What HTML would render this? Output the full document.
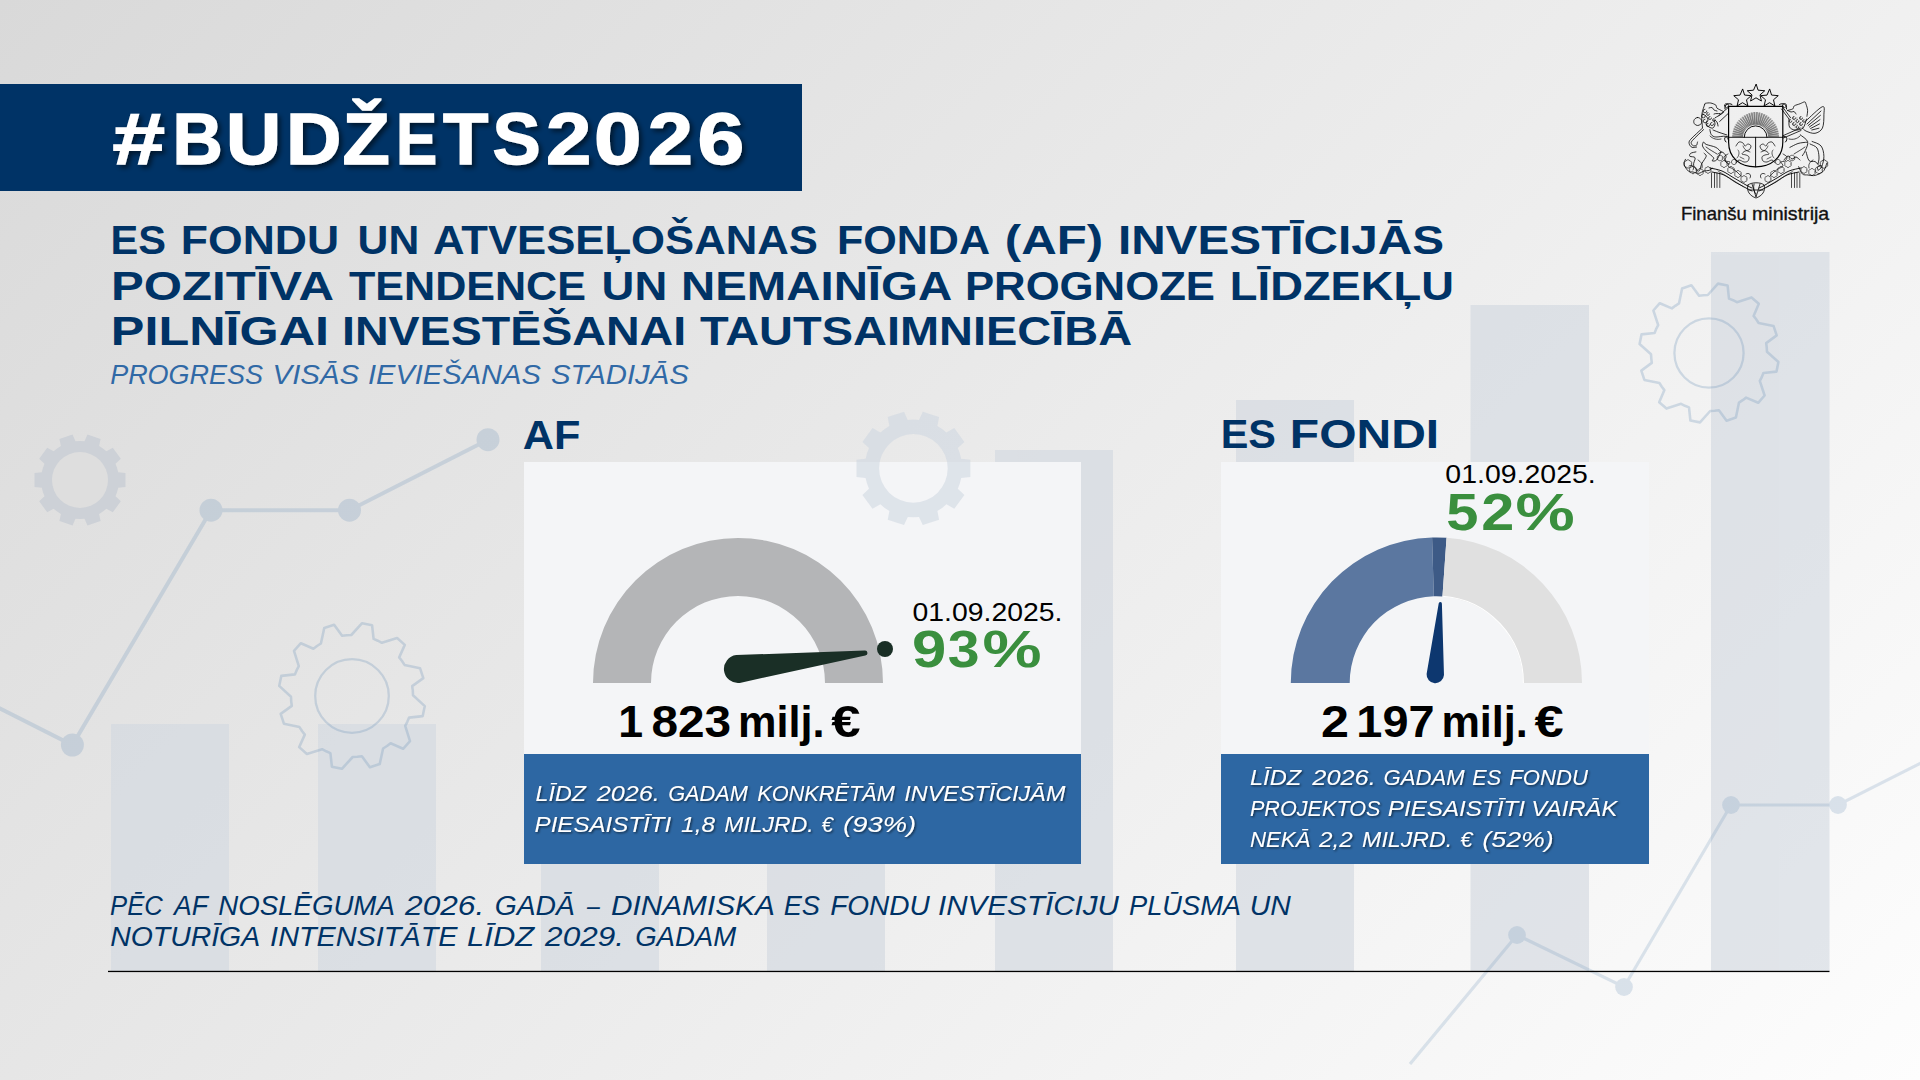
<!DOCTYPE html>
<html><head><meta charset="utf-8">
<style>
html,body{margin:0;padding:0;}
body{width:1920px;height:1080px;overflow:hidden;position:relative;
background:linear-gradient(135deg,#d9d9d9 0%,#fdfdfd 100%);
font-family:"Liberation Sans",sans-serif;}
svg{position:absolute;left:0;top:0;}
.b{font-family:"Liberation Sans",sans-serif;font-weight:bold;}
.r{font-family:"Liberation Sans",sans-serif;font-weight:normal;}
.i{font-family:"Liberation Sans",sans-serif;font-style:italic;}
</style></head>
<body>
<svg width="1920" height="1080" viewBox="0 0 1920 1080">
<defs>
<filter id="sh1" x="-10%" y="-30%" width="120%" height="160%"><feDropShadow dx="3" dy="3" stdDeviation="2.5" flood-color="#000" flood-opacity="0.55"/></filter>
<filter id="sh2" x="-10%" y="-30%" width="120%" height="160%"><feDropShadow dx="1.2" dy="1.2" stdDeviation="0.8" flood-color="#000" flood-opacity="0.6"/></filter>
</defs>
<!-- background decor -->
<g fill="rgb(210,216,224)" opacity="0.62"><rect x="111" y="724" width="118" height="247"/><rect x="318" y="724" width="118" height="247"/><rect x="541" y="700" width="118" height="271"/><rect x="767" y="700" width="118" height="271"/><rect x="995" y="450" width="118" height="521"/><rect x="1236" y="400" width="118" height="571"/><rect x="1470.5" y="305" width="118.5" height="666"/><rect x="1711" y="252" width="118.5" height="719"/></g>
<path d="M117.1,492.1 L118.2,487.7 L125.5,486.9 L125.5,473.1 L118.2,472.3 L117.1,467.9 L115.5,463.8 L120.8,458.8 L112.8,447.7 L106.4,451.3 L102.9,448.4 L99.1,446.0 L100.6,438.9 L87.5,434.6 L84.5,441.3 L80.0,441.0 L75.5,441.3 L72.5,434.6 L59.4,438.9 L60.9,446.0 L57.1,448.4 L53.6,451.3 L47.2,447.7 L39.2,458.8 L44.5,463.8 L42.9,467.9 L41.8,472.3 L34.5,473.1 L34.5,486.9 L41.8,487.7 L42.9,492.1 L44.5,496.2 L39.2,501.2 L47.2,512.3 L53.6,508.7 L57.1,511.6 L60.9,514.0 L59.4,521.1 L72.5,525.4 L75.5,518.7 L80.0,519.0 L84.5,518.7 L87.5,525.4 L100.6,521.1 L99.1,514.0 L102.9,511.6 L106.4,508.7 L112.8,512.3 L120.8,501.2 L115.5,496.2 Z" fill="#cdd1d7"/><circle cx="80" cy="480" r="28" fill="#dedede"/>
<g opacity="0.26"><polyline points="-5,706 72.4,745 211,510.2 349.5,510.2 488,439.7" fill="none" stroke="rgb(119,154,189)" stroke-width="4"/><circle cx="72.4" cy="745" r="11.5" fill="rgb(119,154,189)"/><circle cx="211" cy="510.2" r="11.5" fill="rgb(119,154,189)"/><circle cx="349.5" cy="510.2" r="11.5" fill="rgb(119,154,189)"/><circle cx="488" cy="439.7" r="11.5" fill="rgb(119,154,189)"/></g>
<g fill="none" stroke="rgb(119,154,189)" opacity="0.3" stroke-linejoin="round">
<path d="M377.8,640.7 L373.6,638.9 L372.1,625.3 L362.1,623.2 L351.3,635.0 L346.7,635.2 L342.1,635.8 L334.1,624.7 L324.3,627.9 L320.9,643.5 L317.0,646.0 L313.4,648.8 L300.9,643.2 L294.0,650.9 L298.8,666.1 L296.7,670.2 L294.9,674.4 L281.3,675.9 L279.2,685.9 L291.0,696.7 L291.2,701.3 L291.8,705.9 L280.7,713.9 L283.9,723.7 L299.5,727.1 L302.0,731.0 L304.8,734.6 L299.2,747.1 L306.9,754.0 L322.1,749.2 L326.2,751.3 L330.4,753.1 L331.9,766.7 L341.9,768.8 L352.7,757.0 L357.3,756.8 L361.9,756.2 L369.9,767.3 L379.7,764.1 L383.1,748.5 L387.0,746.0 L390.6,743.2 L403.1,748.8 L410.0,741.1 L405.2,725.9 L407.3,721.8 L409.1,717.6 L422.7,716.1 L424.8,706.1 L413.0,695.3 L412.8,690.7 L412.2,686.1 L423.3,678.1 L420.1,668.3 L404.5,664.9 L402.0,661.0 L399.2,657.4 L404.8,644.9 L397.1,638.0 L381.9,642.8 Z" stroke-width="2.6"/><circle cx="352" cy="696" r="36.8" stroke-width="2.3"/>
<path d="M1733.1,300.2 L1729.0,298.6 L1727.6,285.5 L1718.0,283.6 L1707.8,295.0 L1703.4,295.3 L1699.1,295.8 L1691.4,285.3 L1682.1,288.4 L1679.0,303.4 L1675.3,305.8 L1671.9,308.4 L1659.8,303.2 L1653.4,310.5 L1658.2,325.1 L1656.2,328.9 L1654.6,333.0 L1641.5,334.4 L1639.6,344.0 L1651.0,354.2 L1651.3,358.6 L1651.8,362.9 L1641.3,370.6 L1644.4,379.9 L1659.4,383.0 L1661.8,386.7 L1664.4,390.1 L1659.2,402.2 L1666.5,408.6 L1681.1,403.8 L1684.9,405.8 L1689.0,407.4 L1690.4,420.5 L1700.0,422.4 L1710.2,411.0 L1714.6,410.7 L1718.9,410.2 L1726.6,420.7 L1735.9,417.6 L1739.0,402.6 L1742.7,400.2 L1746.1,397.6 L1758.2,402.8 L1764.6,395.5 L1759.8,380.9 L1761.8,377.1 L1763.4,373.0 L1776.5,371.6 L1778.4,362.0 L1767.0,351.8 L1766.7,347.4 L1766.2,343.1 L1776.7,335.4 L1773.6,326.1 L1758.6,323.0 L1756.2,319.3 L1753.6,315.9 L1758.8,303.8 L1751.5,297.4 L1736.9,302.2 Z" stroke-width="2.6"/><circle cx="1709" cy="353" r="34.6" stroke-width="2.3"/>
</g>
<g opacity="0.24"><polyline points="1410,1064 1517,935 1624,987 1731,805 1838,805 1925,761" fill="none" stroke="rgb(119,154,189)" stroke-width="3.2"/><circle cx="1517" cy="935" r="8.9" fill="rgb(119,154,189)"/><circle cx="1624" cy="987" r="8.9" fill="rgb(119,154,189)"/><circle cx="1731" cy="805" r="8.9" fill="rgb(119,154,189)"/><circle cx="1838" cy="805" r="8.9" fill="rgb(119,154,189)"/></g>

<!-- banner -->
<rect x="0" y="84" width="802" height="107" fill="#003366"/>
<g class="b" font-size="72.1" fill="#ffffff" stroke="#ffffff" stroke-width="1.4" filter="url(#sh1)"><g transform="translate(0,163.7)"><text x="112.49" textLength="52.39" lengthAdjust="spacingAndGlyphs">#</text><text x="172.55" textLength="50.23" lengthAdjust="spacingAndGlyphs">B</text><text x="226.1" textLength="55.13" lengthAdjust="spacingAndGlyphs">U</text><text x="285.9" textLength="55.39" lengthAdjust="spacingAndGlyphs">D</text><text x="342.59" textLength="47.31" lengthAdjust="spacingAndGlyphs">Ž</text><text x="396.04" textLength="41.16" lengthAdjust="spacingAndGlyphs">E</text><text x="442.95" textLength="45.34" lengthAdjust="spacingAndGlyphs">T</text><text x="492.55" textLength="48.13" lengthAdjust="spacingAndGlyphs">S</text><text x="545.95" textLength="45.36" lengthAdjust="spacingAndGlyphs">2</text><text x="593.94" textLength="47.5" lengthAdjust="spacingAndGlyphs">0</text><text x="647.83" textLength="45.15" lengthAdjust="spacingAndGlyphs">2</text><text x="697.55" textLength="46.74" lengthAdjust="spacingAndGlyphs">6</text></g></g>

<!-- headings -->
<g class="b" font-size="41.42" fill="#003366"><g transform="translate(0,254)"><text x="110.59" textLength="55.51" lengthAdjust="spacingAndGlyphs">ES</text><text x="180.85" textLength="158.29" lengthAdjust="spacingAndGlyphs">FONDU</text><text x="357.62" textLength="61.69" lengthAdjust="spacingAndGlyphs">UN</text><text x="432.98" textLength="385.0" lengthAdjust="spacingAndGlyphs">ATVESEĻOŠANAS</text><text x="836.94" textLength="153.09" lengthAdjust="spacingAndGlyphs">FONDA</text><text x="1004.85" textLength="98.3" lengthAdjust="spacingAndGlyphs">(AF)</text><text x="1117.9" textLength="326.26" lengthAdjust="spacingAndGlyphs">INVESTĪCIJĀS</text></g></g>
<g class="b" font-size="41.42" fill="#003366"><g transform="translate(0,300)"><text x="110.93" textLength="223.1" lengthAdjust="spacingAndGlyphs">POZITĪVA</text><text x="348.99" textLength="237.0" lengthAdjust="spacingAndGlyphs">TENDENCE</text><text x="601.64" textLength="65.63" lengthAdjust="spacingAndGlyphs">UN</text><text x="680.96" textLength="271.15" lengthAdjust="spacingAndGlyphs">NEMAINĪGA</text><text x="964.93" textLength="250.09" lengthAdjust="spacingAndGlyphs">PROGNOZE</text><text x="1229.89" textLength="224.19" lengthAdjust="spacingAndGlyphs">LĪDZEKĻU</text></g></g>
<g class="b" font-size="41.42" fill="#003366"><g transform="translate(0,345)"><text x="110.89" textLength="218.22" lengthAdjust="spacingAndGlyphs">PILNĪGAI</text><text x="341.97" textLength="344.15" lengthAdjust="spacingAndGlyphs">INVESTĒŠANAI</text><text x="700.0" textLength="432.06" lengthAdjust="spacingAndGlyphs">TAUTSAIMNIECĪBĀ</text></g></g>
<g class="i" font-size="27.62" fill="#3069a6"><g transform="translate(0,383.75)"><text x="110.15" textLength="152.85" lengthAdjust="spacingAndGlyphs">PROGRESS</text><text x="272.62" textLength="86.58" lengthAdjust="spacingAndGlyphs">VISĀS</text><text x="367.95" textLength="172.85" lengthAdjust="spacingAndGlyphs">IEVIEŠANAS</text><text x="550.95" textLength="137.84" lengthAdjust="spacingAndGlyphs">STADIJĀS</text></g></g>
<g class="b" font-size="40.84" fill="#003366"><g transform="translate(0,448.75)"><text x="522.83" textLength="57.63" lengthAdjust="spacingAndGlyphs">AF</text></g></g>
<g class="b" font-size="40.7" fill="#003366"><g transform="translate(0,448)"><text x="1220.72" textLength="55.26" lengthAdjust="spacingAndGlyphs">ES</text><text x="1289.83" textLength="149.37" lengthAdjust="spacingAndGlyphs">FONDI</text></g></g>

<!-- AF card -->
<rect x="524" y="462" width="557" height="292" fill="#f4f5f7"/>
<rect x="524" y="754" width="557" height="110" fill="#2d67a3"/>
<path d="M959.8,483.5 L961.2,478.0 L970.3,477.0 L970.3,459.8 L961.2,458.8 L959.8,453.3 L957.8,448.1 L964.4,441.9 L954.3,428.0 L946.4,432.5 L942.1,428.9 L937.4,425.9 L939.1,417.0 L922.8,411.7 L919.0,419.9 L913.4,419.6 L907.8,419.9 L904.0,411.7 L887.7,417.0 L889.4,425.9 L884.7,428.9 L880.4,432.5 L872.5,428.0 L862.4,441.9 L869.0,448.1 L867.0,453.3 L865.6,458.8 L856.5,459.8 L856.5,477.0 L865.6,478.0 L867.0,483.5 L869.0,488.7 L862.4,494.9 L872.5,508.8 L880.4,504.3 L884.7,507.9 L889.4,510.9 L887.7,519.8 L904.0,525.1 L907.8,516.9 L913.4,517.2 L919.0,516.9 L922.8,525.1 L939.1,519.8 L937.4,510.9 L942.1,507.9 L946.4,504.3 L954.3,508.8 L964.4,494.9 L957.8,488.7 Z M947.7,468.4 A34.3,34.3 0 1 0 879.1,468.4 A34.3,34.3 0 1 0 947.7,468.4 Z" fill="#ccd5e0" opacity="0.55" fill-rule="evenodd"/>
<path d="M593.00,683.00 A145,145 0 0 1 883.00,683.00 L825.00,683.00 A87,87 0 0 0 651.00,683.00 Z" fill="#b4b5b7"/>
<path d="M739.75,682.89 L865.31,655.48 A2.5,2.5 0 0 0 864.69,650.52 L736.25,655.11 A14,14 0 1 0 739.75,682.89 Z" fill="#1a2f26"/>
<circle cx="885" cy="649" r="8" fill="#1a2f26"/>
<g class="r" font-size="25.5" fill="#000"><g transform="translate(0,620.9)"><text x="912.53" textLength="149.89" lengthAdjust="spacingAndGlyphs">01.09.2025.</text></g></g>
<g class="b" font-size="52.01" fill="#3a8f3e"><g transform="translate(0,667.3)"><text x="911.98" textLength="34.29" lengthAdjust="spacingAndGlyphs">9</text><text x="947.88" textLength="31.79" lengthAdjust="spacingAndGlyphs">3</text><text x="982.54" textLength="59.08" lengthAdjust="spacingAndGlyphs">%</text></g></g>
<g class="b" font-size="43.7" fill="#000"><g transform="translate(0,737)"><text x="618.34" textLength="24.87" lengthAdjust="spacingAndGlyphs">1</text><text x="651.44" textLength="79.74" lengthAdjust="spacingAndGlyphs">823</text><text x="737.95" textLength="86.51" lengthAdjust="spacingAndGlyphs">milj.</text><text x="831.38" textLength="29.37" lengthAdjust="spacingAndGlyphs">€</text></g></g>
<g class="i" font-size="22.53" fill="#fff" filter="url(#sh2)"><g transform="translate(0,801.2)"><text x="535.57" textLength="50.39" lengthAdjust="spacingAndGlyphs">LĪDZ</text><text x="596.73" textLength="63.13" lengthAdjust="spacingAndGlyphs">2026.</text><text x="668.14" textLength="79.84" lengthAdjust="spacingAndGlyphs">GADAM</text><text x="757.17" textLength="137.81" lengthAdjust="spacingAndGlyphs">KONKRĒTĀM</text><text x="904.37" textLength="160.99" lengthAdjust="spacingAndGlyphs">INVESTĪCIJĀM</text></g></g>
<g class="i" font-size="22.53" fill="#fff" filter="url(#sh2)"><g transform="translate(0,831.8)"><text x="534.56" textLength="136.67" lengthAdjust="spacingAndGlyphs">PIESAISTĪTI</text><text x="681.12" textLength="33.9" lengthAdjust="spacingAndGlyphs">1,8</text><text x="724.37" textLength="89.23" lengthAdjust="spacingAndGlyphs">MILJRD.</text><text x="821.51" textLength="11.56" lengthAdjust="spacingAndGlyphs">€</text><text x="843.08" textLength="73.02" lengthAdjust="spacingAndGlyphs">(93%)</text></g></g>

<!-- ES card -->
<rect x="1221" y="462" width="428" height="292" fill="#f4f5f7"/>
<rect x="1221" y="754" width="428" height="110" fill="#2d67a3"/>
<path d="M1290.80,683.00 A145.6,145.6 0 0 1 1432.08,537.46 L1433.83,596.34 A86.7,86.7 0 0 0 1349.70,683.00 Z" fill="#5b77a0"/>
<path d="M1432.08,537.46 A145.6,145.6 0 0 1 1446.56,537.75 L1442.45,596.51 A86.7,86.7 0 0 0 1433.83,596.34 Z" fill="#3d5a86"/>
<path d="M1446.56,537.75 A145.6,145.6 0 0 1 1582.00,683.00 L1523.10,683.00 A86.7,86.7 0 0 0 1442.45,596.51 Z" fill="#e0e0e0"/>
<path d="M1523.4,683 A87,87 0 0 0 1442.5,596.2" fill="none" stroke="#ffffff" stroke-width="1.1"/>
<path d="M1443.98,675.11 L1441.90,603.81 A1.6,1.6 0 0 0 1438.70,603.59 L1426.62,673.89 A8.7,8.7 0 1 0 1443.98,675.11 Z" fill="#0d376f"/>
<g class="r" font-size="25.79" fill="#000"><g transform="translate(0,482.8)"><text x="1445.38" textLength="150.36" lengthAdjust="spacingAndGlyphs">01.09.2025.</text></g></g>
<g class="b" font-size="51.29" fill="#3a8f3e"><g transform="translate(0,530)"><text x="1446.33" textLength="32.19" lengthAdjust="spacingAndGlyphs">5</text><text x="1481.3" textLength="33.08" lengthAdjust="spacingAndGlyphs">2</text><text x="1515.45" textLength="59.18" lengthAdjust="spacingAndGlyphs">%</text></g></g>
<g class="b" font-size="43.7" fill="#000"><g transform="translate(0,737)"><text x="1320.99" textLength="27.99" lengthAdjust="spacingAndGlyphs">2</text><text x="1356.35" textLength="78.27" lengthAdjust="spacingAndGlyphs">197</text><text x="1441.38" textLength="86.44" lengthAdjust="spacingAndGlyphs">milj.</text><text x="1534.62" textLength="29.17" lengthAdjust="spacingAndGlyphs">€</text></g></g>
<g class="i" font-size="22.53" fill="#fff" filter="url(#sh2)"><g transform="translate(0,784.8)"><text x="1249.95" textLength="51.24" lengthAdjust="spacingAndGlyphs">LĪDZ</text><text x="1312.33" textLength="63.45" lengthAdjust="spacingAndGlyphs">2026.</text><text x="1383.55" textLength="81.06" lengthAdjust="spacingAndGlyphs">GADAM</text><text x="1472.32" textLength="28.84" lengthAdjust="spacingAndGlyphs">ES</text><text x="1509.34" textLength="78.53" lengthAdjust="spacingAndGlyphs">FONDU</text></g></g>
<g class="i" font-size="22.53" fill="#fff" filter="url(#sh2)"><g transform="translate(0,816)"><text x="1249.98" textLength="130.42" lengthAdjust="spacingAndGlyphs">PROJEKTOS</text><text x="1387.8" textLength="137.22" lengthAdjust="spacingAndGlyphs">PIESAISTĪTI</text><text x="1531.28" textLength="86.09" lengthAdjust="spacingAndGlyphs">VAIRĀK</text></g></g>
<g class="i" font-size="22.53" fill="#fff" filter="url(#sh2)"><g transform="translate(0,847.4)"><text x="1249.91" textLength="60.72" lengthAdjust="spacingAndGlyphs">NEKĀ</text><text x="1319.14" textLength="33.71" lengthAdjust="spacingAndGlyphs">2,2</text><text x="1362.13" textLength="89.99" lengthAdjust="spacingAndGlyphs">MILJRD.</text><text x="1460.25" textLength="12.29" lengthAdjust="spacingAndGlyphs">€</text><text x="1482.36" textLength="71.36" lengthAdjust="spacingAndGlyphs">(52%)</text></g></g>

<!-- bottom -->
<g class="i" font-size="27.62" fill="#003366"><g transform="translate(0,914.7)"><text x="110.12" textLength="52.75" lengthAdjust="spacingAndGlyphs">PĒC</text><text x="174.12" textLength="33.89" lengthAdjust="spacingAndGlyphs">AF</text><text x="218.19" textLength="176.65" lengthAdjust="spacingAndGlyphs">NOSLĒGUMA</text><text x="405.13" textLength="79.12" lengthAdjust="spacingAndGlyphs">2026.</text><text x="494.72" textLength="80.13" lengthAdjust="spacingAndGlyphs">GADĀ</text><text x="587.0" textLength="12.85" lengthAdjust="spacingAndGlyphs">–</text><text x="610.94" textLength="163.91" lengthAdjust="spacingAndGlyphs">DINAMISKA</text><text x="783.67" textLength="36.33" lengthAdjust="spacingAndGlyphs">ES</text><text x="830.17" textLength="99.66" lengthAdjust="spacingAndGlyphs">FONDU</text><text x="938.01" textLength="181.02" lengthAdjust="spacingAndGlyphs">INVESTĪCIJU</text><text x="1128.98" textLength="112.05" lengthAdjust="spacingAndGlyphs">PLŪSMA</text><text x="1249.78" textLength="41.05" lengthAdjust="spacingAndGlyphs">UN</text></g></g>
<g class="i" font-size="27.62" fill="#003366"><g transform="translate(0,945.9)"><text x="110.15" textLength="150.04" lengthAdjust="spacingAndGlyphs">NOTURĪGA</text><text x="270.13" textLength="187.34" lengthAdjust="spacingAndGlyphs">INTENSITĀTE</text><text x="467.11" textLength="67.02" lengthAdjust="spacingAndGlyphs">LĪDZ</text><text x="545.12" textLength="78.85" lengthAdjust="spacingAndGlyphs">2029.</text><text x="635.15" textLength="101.04" lengthAdjust="spacingAndGlyphs">GADAM</text></g></g>
<rect x="108" y="970.8" width="1721.5" height="1.3" fill="#000"/>

<!-- logo -->
<g transform="translate(1684,84)" fill="none" stroke="#000" stroke-width="0.95" stroke-linejoin="round" stroke-linecap="round"><polygon points="58.50,5.30 56.03,11.10 49.75,11.66 54.51,15.80 53.09,21.94 58.50,18.70 63.91,21.94 62.49,15.80 67.25,11.66 60.97,11.10"/><polygon points="72.00,0.40 69.53,6.20 63.25,6.76 68.01,10.90 66.59,17.04 72.00,13.80 77.41,17.04 75.99,10.90 80.75,6.76 74.47,6.20"/><polygon points="85.50,5.30 83.03,11.10 76.75,11.66 81.51,15.80 80.09,21.94 85.50,18.70 90.91,21.94 89.49,15.80 94.25,11.66 87.97,11.10"/><path d="M44.6,22.3 L98.8,22.3 L98.8,58 C98.8,74 87,82.8 71.6,82.8 C56,82.8 44.6,74 44.6,58 Z" stroke-width="1.2"/><path d="M44.6,53.3 L98.8,53.3 M71.6,53.3 L71.6,82.8" stroke-width="0.9"/><path d="M41,25 C40,20 45,18.5 48,20.5 M102.5,25 C103.5,20 98.5,18.5 95.5,20.5 M42,58 C39,55 41,51 44.6,53 M101.5,58 C104.5,55 102.5,51 98.8,53"/><path d="M60.2,53.3 A11.4,11.4 0 0 1 83,53.3"/><path d="M84.59,52.91 L94.59,52.62 M84.58,52.62 L94.57,52.10 M84.56,52.33 L94.54,51.58 M84.48,51.56 L94.42,50.22 M84.44,51.27 L94.34,49.70 M84.39,50.98 L94.25,49.18 M84.23,50.22 L94.01,47.84 M84.16,49.94 L93.88,47.33 M84.08,49.65 L93.74,46.83 M83.84,48.92 L93.38,45.50 M83.74,48.64 L93.20,45.01 M83.63,48.37 L93.00,44.52 M83.31,47.66 L92.52,43.23 M83.18,47.40 L92.29,42.76 M83.05,47.14 L92.04,42.29 M82.66,46.47 L91.44,41.04 M82.50,46.22 L91.16,40.60 M82.34,45.97 L90.87,40.16 M81.89,45.35 L90.15,38.96 M81.70,45.12 L89.82,38.55 M81.51,44.89 L89.48,38.14 M81.00,44.32 L88.65,37.00 M80.79,44.11 L88.28,36.62 M80.58,43.90 L87.90,36.25 M80.01,43.39 L86.96,35.19 M79.78,43.20 L86.54,34.85 M79.55,43.01 L86.12,34.52 M78.93,42.56 L85.07,33.55 M78.68,42.40 L84.62,33.25 M78.43,42.24 L84.16,32.96 M77.76,41.85 L83.02,32.09 M77.50,41.72 L82.54,31.83 M77.24,41.59 L82.05,31.59 M76.53,41.27 L80.81,30.83 M76.26,41.16 L80.30,30.63 M75.98,41.06 L79.79,30.44 M75.25,40.82 L78.47,29.80 M74.96,40.74 L77.94,29.65 M74.68,40.67 L77.40,29.51 M73.92,40.51 L76.01,29.01 M73.63,40.46 L75.46,28.92 M73.34,40.42 L74.91,28.84 M72.57,40.34 L73.47,28.47 M72.28,40.32 L72.90,28.44 M71.99,40.31 L72.34,28.42 M71.21,40.31 L70.86,28.42 M70.92,40.32 L70.30,28.44 M70.63,40.34 L69.73,28.47 M69.86,40.42 L68.29,28.84 M69.57,40.46 L67.74,28.92 M69.28,40.51 L67.19,29.01 M68.52,40.67 L65.80,29.51 M68.24,40.74 L65.26,29.65 M67.95,40.82 L64.73,29.80 M67.22,41.06 L63.41,30.44 M66.94,41.16 L62.90,30.63 M66.67,41.27 L62.39,30.83 M65.96,41.59 L61.15,31.59 M65.70,41.72 L60.66,31.83 M65.44,41.85 L60.18,32.09 M64.77,42.24 L59.04,32.96 M64.52,42.40 L58.58,33.25 M64.27,42.56 L58.13,33.55 M63.65,43.01 L57.08,34.52 M63.42,43.20 L56.66,34.85 M63.19,43.39 L56.24,35.19 M62.62,43.90 L55.30,36.25 M62.41,44.11 L54.92,36.62 M62.20,44.32 L54.55,37.00 M61.69,44.89 L53.72,38.14 M61.50,45.12 L53.38,38.55 M61.31,45.35 L53.05,38.96 M60.86,45.97 L52.33,40.16 M60.70,46.22 L52.04,40.60 M60.54,46.47 L51.76,41.04 M60.15,47.14 L51.16,42.29 M60.02,47.40 L50.91,42.76 M59.89,47.66 L50.68,43.23 M59.57,48.37 L50.20,44.52 M59.46,48.64 L50.00,45.01 M59.36,48.92 L49.82,45.50 M59.12,49.65 L49.46,46.83 M59.04,49.94 L49.32,47.33 M58.97,50.22 L49.19,47.84 M58.81,50.98 L48.95,49.18 M58.76,51.27 L48.86,49.70 M58.72,51.56 L48.78,50.22 M58.64,52.33 L48.66,51.58 M58.62,52.62 L48.63,52.10 M58.61,52.91 L48.61,52.62" stroke-width="0.45" stroke="#444"/><path d="M52.0,62.0 C52.5,61.3 53.8,58.5 55.0,58.0 C56.2,57.5 58.0,58.3 59.0,59.0 C60.0,59.7 60.2,61.8 61.0,62.0 C61.8,62.2 63.0,60.0 64.0,60.0 C65.0,60.0 66.8,61.0 67.0,62.0 C67.2,63.0 66.0,65.2 65.0,66.0 C64.0,66.8 62.2,66.3 61.0,67.0 C59.8,67.7 57.8,69.3 58.0,70.0 C58.2,70.7 60.8,70.5 62.0,71.0 C63.2,71.5 64.7,72.0 65.0,73.0 C65.3,74.0 64.8,76.2 64.0,77.0 C63.2,77.8 61.5,78.2 60.0,78.0 C58.5,77.8 56.3,75.8 55.0,76.0 C53.7,76.2 52.5,78.5 52.0,79.0" stroke-width="0.7"/><path d="M54,66 C56,68 55,72 53,74 M59,62 C60,65 62,67 66,68 M56,73 L60,75" stroke-width="0.6"/><path d="M91.0,62.0 C90.5,61.3 89.2,58.5 88.0,58.0 C86.8,57.5 85.0,58.3 84.0,59.0 C83.0,59.7 82.8,61.8 82.0,62.0 C81.2,62.2 80.0,60.0 79.0,60.0 C78.0,60.0 76.2,61.0 76.0,62.0 C75.8,63.0 77.0,65.2 78.0,66.0 C79.0,66.8 80.8,66.3 82.0,67.0 C83.2,67.7 85.2,69.3 85.0,70.0 C84.8,70.7 82.2,70.5 81.0,71.0 C79.8,71.5 78.3,72.0 78.0,73.0 C77.7,74.0 78.2,76.2 79.0,77.0 C79.8,77.8 81.5,78.2 83.0,78.0 C84.5,77.8 86.7,75.8 88.0,76.0 C89.3,76.2 90.5,78.5 91.0,79.0" stroke-width="0.7"/><path d="M89,66 C87,68 88,72 90,74 M84,62 C83,65 81,67 77,68 M87,73 L83,75" stroke-width="0.6"/><path d="M20.7,20.4 C20.8,20.2 20.5,19.5 21.5,19.3 C22.5,19.1 25.0,18.7 26.7,19.0 C28.4,19.3 30.8,20.3 31.9,21.2 C32.9,22.1 31.9,23.1 33.0,24.1 C34.1,25.1 37.5,26.4 38.5,27.1 C39.5,27.9 39.9,27.9 39.3,28.6 C38.7,29.4 36.2,30.7 34.8,31.6 C33.4,32.5 31.7,33.4 31.1,33.8 M20.7,20.4 C20.2,22.1 18.2,26.9 17.8,30.8 C17.4,34.8 18.4,41.9 18.5,44.1 M25.0,24.0 C25.5,23.9 27.2,23.2 28.0,23.5 C28.8,23.8 29.2,25.4 30.0,26.0 C30.8,26.6 32.5,26.8 33.0,27.0 M30,30 C32,29 34,30 36,29.5 M13.7,33.5 A4,4 0 1 0 13.71,33.5 Z M34.8,31.6 L44.4,23.4 M35.6,37.5 L44.4,29.3 M18.5,30.0 C19.1,30.3 21.1,31.0 22.0,32.0 C22.9,33.0 24.0,34.7 24.0,36.0 C24.0,37.3 21.8,38.8 22.0,40.0 C22.2,41.2 23.8,42.3 25.0,43.0 C26.2,43.7 28.0,44.5 29.0,44.0 C30.0,43.5 30.8,41.3 31.0,40.0 C31.2,38.7 29.7,36.3 30.0,36.0 C30.3,35.7 32.3,37.0 33.0,38.0 C33.7,39.0 33.8,41.3 34.0,42.0 M18.1,44.5 C16.2,46.3 8.9,52.8 6.7,55.3 C4.5,57.8 5.0,58.4 5.2,59.7 C5.4,61.1 6.9,62.9 8.1,63.4 C9.3,63.9 11.8,63.1 12.6,63.0 M19.6,45.6 C17.8,47.4 10.5,54.0 8.5,56.4 C6.5,58.8 7.2,58.8 7.4,59.7 C7.6,60.6 8.7,61.6 9.6,61.9 C10.5,62.1 11.9,61.9 12.6,61.2 C13.2,60.6 13.3,58.5 13.5,58.0 M25.9,45.6 C26.1,46.5 26.4,49.6 27.4,50.8 C28.4,52.0 29.5,52.8 31.9,53.0 C34.2,53.2 39.4,51.8 41.5,52.3 C43.6,52.8 43.9,55.4 44.4,56.0 M29.0,46.0 C29.8,46.3 32.2,47.3 34.0,48.0 C35.8,48.7 38.5,49.5 40.0,50.0 C41.5,50.5 42.5,50.8 43.0,51.0 M20.0,58.2 C20.4,58.6 20.2,59.5 22.2,60.4 C24.2,61.3 29.4,62.1 31.9,63.4 C34.4,64.7 36.1,67.2 37.0,67.9 M19.3,58.2 C19.2,58.8 18.0,60.4 18.5,61.9 C19.0,63.4 20.3,65.1 22.2,67.1 C24.1,69.1 28.6,72.2 29.6,73.8 C30.6,75.4 27.6,76.3 28.1,76.7 C28.6,77.1 31.1,77.5 32.6,76.0 C34.1,74.5 36.3,69.2 37.0,67.9 M11.9,67.9 C11.0,68.1 7.7,68.6 6.7,69.3 C5.7,70.0 5.2,71.5 5.9,72.3 C6.6,73.0 10.5,72.3 11.1,73.8 C11.7,75.3 9.0,79.0 9.6,81.2 C10.2,83.4 13.4,87.3 14.8,87.1 C16.2,86.8 16.6,82.2 17.8,79.7 C19.0,77.2 21.8,74.0 22.2,72.3 C22.6,70.6 20.4,69.8 20.0,69.3 M1.5,75.3 C1.2,76.2 -0.5,78.4 0.0,80.4 C0.5,82.4 2.9,85.8 4.4,87.1 C5.9,88.4 7.3,87.6 9.0,88.0 C10.7,88.4 13.0,89.5 14.8,89.3 C16.6,89.1 18.3,87.5 20.0,87.0 C21.7,86.5 23.9,86.9 25.2,86.4 C26.5,85.9 27.5,84.4 28.0,84.0 M34.0,70.0 C34.7,69.7 36.7,67.7 38.0,68.0 C39.3,68.3 41.5,70.5 42.0,72.0 C42.5,73.5 40.5,75.7 41.0,77.0 C41.5,78.3 44.3,79.5 45.0,80.0" stroke-width="0.8"/><path d="M103.6,26.4 C104.5,26.1 107.7,25.6 108.8,24.9 C109.9,24.1 109.1,22.8 110.3,21.9 C111.5,21.0 114.5,20.4 116.2,19.7 C117.9,19.0 119.7,17.8 120.7,17.9 C121.7,18.0 121.6,19.0 122.1,20.4 C122.6,21.8 123.5,24.4 123.6,26.4 C123.7,28.4 123.0,31.3 122.9,32.3 M103.6,26.4 C104.2,26.7 105.9,27.8 107.0,28.0 C108.1,28.2 109.2,27.2 110.0,27.5 C110.8,27.8 111.7,29.6 112.0,30.0 M105.0,35.0 C105.1,36.3 104.5,41.2 105.5,43.0 C106.5,44.8 108.8,45.8 111.0,46.0 C113.2,46.2 117.1,45.8 119.0,44.0 C120.9,42.2 121.9,36.5 122.5,35.0 M98.4,22.7 L106.6,33.8 M97.5,25 L105,35 M99.2,51.6 L116.2,44.1 M99.5,54 L117,46.5 M122.1,36.7 C124.8,34.4 135.4,23.7 138.4,22.7 C141.4,21.7 139.9,27.2 139.9,30.8 C139.9,34.4 139.9,41.0 138.4,44.1 C136.9,47.2 133.7,48.8 131.0,49.3 C128.3,49.8 124.2,48.0 122.1,47.1 C120.0,46.2 119.0,44.6 118.4,44.1 M123.0,40.0 L137.0,27.0 M124.2,41.5 L136.5,31.3 M125.4,43.0 L136.0,35.6 M126.6,44.5 L135.5,39.9 M127.8,46.0 L135.0,44.2 M116.2,50.8 C117.4,51.9 122.7,54.9 123.6,57.5 C124.5,60.1 122.3,64.1 121.4,66.4 C120.5,68.8 118.9,70.7 118.4,71.6 M105.9,63.4 C107.2,62.8 111.2,60.4 114.0,59.5 C116.8,58.6 121.4,58.4 122.9,58.2 M128.1,57.5 C129.6,58.2 135.0,59.4 137.0,61.9 C139.0,64.4 139.8,68.8 139.9,72.3 C140.0,75.8 138.7,80.3 137.7,82.7 C136.7,85.1 134.6,85.8 134.0,86.4 M126.0,60.0 C127.2,60.7 131.5,61.8 133.0,64.0 C134.5,66.2 134.8,70.3 135.0,73.0 C135.2,75.7 134.2,78.8 134.0,80.0 M122.1,67.9 C122.6,69.4 123.6,75.1 125.1,76.7 C126.6,78.3 129.5,76.9 131.0,77.5 C132.5,78.1 133.5,79.9 134.0,80.4 M114.7,82.7 C115.3,83.9 116.9,88.6 118.4,90.0 C120.0,91.4 122.1,90.7 124.0,91.0 C125.9,91.3 127.8,91.8 129.6,91.6 C131.4,91.4 133.3,90.9 135.0,90.0 C136.7,89.1 138.7,88.2 140.0,86.4 C141.3,84.6 142.4,80.2 142.9,79.0 M100.0,76.0 C100.7,75.3 102.7,72.2 104.0,72.0 C105.3,71.8 106.7,74.8 108.0,75.0 C109.3,75.2 110.7,72.8 112.0,73.0 C113.3,73.2 115.3,75.5 116.0,76.0" stroke-width="0.8"/><path d="M109.3,34.0 A1.3,1.3 0 1 0 109.3,34.0 M112.9,34.0 A1.3,1.3 0 1 0 112.9,34.0 M116.5,34.0 A1.3,1.3 0 1 0 116.5,34.0 M111.1,37.0 A1.3,1.3 0 1 0 111.1,37.0 M114.7,37.0 A1.3,1.3 0 1 0 114.7,37.0 M118.3,37.0 A1.3,1.3 0 1 0 118.3,37.0 M109.3,40.0 A1.3,1.3 0 1 0 109.3,40.0 M112.9,40.0 A1.3,1.3 0 1 0 112.9,40.0 M116.5,40.0 A1.3,1.3 0 1 0 116.5,40.0 M111.1,43.0 A1.3,1.3 0 1 0 111.1,43.0 M114.7,43.0 A1.3,1.3 0 1 0 114.7,43.0 M118.3,43.0 A1.3,1.3 0 1 0 118.3,43.0" stroke-width="0.6"/><path d="M44.0,70.0 C43.3,70.5 40.3,71.8 40.0,73.0 C39.7,74.2 41.0,76.2 42.0,77.0 C43.0,77.8 45.7,77.2 46.0,78.0 C46.3,78.8 43.5,80.8 44.0,82.0 C44.5,83.2 47.5,84.0 49.0,85.0 C50.5,86.0 51.7,86.8 53.0,88.0 C54.3,89.2 56.3,91.3 57.0,92.0 M99.0,70.0 C99.7,70.5 102.7,71.8 103.0,73.0 C103.3,74.2 102.0,76.2 101.0,77.0 C100.0,77.8 97.3,77.2 97.0,78.0 C96.7,78.8 99.5,80.8 99.0,82.0 C98.5,83.2 95.5,84.0 94.0,85.0 C92.5,86.0 91.3,86.8 90.0,88.0 C88.7,89.2 86.7,91.3 86.0,92.0" stroke-width="0.7"/><path d="M26.0,84.0 C28.0,84.5 34.0,85.3 38.0,87.0 C42.0,88.7 46.0,91.7 50.0,94.0 C54.0,96.3 59.0,99.3 62.0,101.0 C65.0,102.7 67.0,103.5 68.0,104.0 M28.0,88.0 C30.0,88.5 36.2,89.3 40.0,91.0 C43.8,92.7 47.3,95.8 51.0,98.0 C54.7,100.2 59.2,102.5 62.0,104.0 C64.8,105.5 67.0,106.5 68.0,107.0 M117.0,84.0 C115.0,84.5 109.0,85.3 105.0,87.0 C101.0,88.7 97.0,91.7 93.0,94.0 C89.0,96.3 84.0,99.3 81.0,101.0 C78.0,102.7 76.0,103.5 75.0,104.0 M115.0,88.0 C113.0,88.5 106.8,89.3 103.0,91.0 C99.2,92.7 95.7,95.8 92.0,98.0 C88.3,100.2 83.8,102.5 81.0,104.0 C78.2,105.5 76.0,106.5 75.0,107.0" stroke-width="0.9"/><path d="M34,87 L60,103 M109,87 L83,103" stroke-width="0.5"/><path d="M27.5,89 L27.5,103.5 M30.5,89 L30.5,103.5 M33,89 L33,103.5 M35.8,89 L35.8,103.5 M107.5,89 L107.5,103.5 M110.5,89 L110.5,103.5 M113,89 L113,103.5 M115.8,89 L115.8,103.5" stroke-width="0.7"/><path d="M64,101 C62,107 66,112 72,114 C78,112 82,107 80,101 C77,98 67,98 64,101 Z M68,100 L72,113 L76,100 M65,106 L79,106 M70,100 C69,104 70,108 72,110" stroke-width="0.8"/><path d="M7.5,80.0 A1.9,1.9 0 0 1 5.8,83.0 A1.9,1.9 0 0 1 2.3,83.0 A1.9,1.9 0 0 1 0.5,80.0 A1.9,1.9 0 0 1 2.2,77.0 A1.9,1.9 0 0 1 5.8,77.0 A1.9,1.9 0 0 1 7.5,80.0 M12.2,86.0 A1.8,1.8 0 0 1 10.6,88.8 A1.8,1.8 0 0 1 7.4,88.8 A1.8,1.8 0 0 1 5.8,86.0 A1.8,1.8 0 0 1 7.4,83.2 A1.8,1.8 0 0 1 10.6,83.2 A1.8,1.8 0 0 1 12.2,86.0 M19.0,88.0 A1.7,1.7 0 0 1 17.5,90.6 A1.7,1.7 0 0 1 14.5,90.6 A1.7,1.7 0 0 1 13.0,88.0 A1.7,1.7 0 0 1 14.5,85.4 A1.7,1.7 0 0 1 17.5,85.4 A1.7,1.7 0 0 1 19.0,88.0 M26.8,86.0 A1.5,1.5 0 0 1 25.4,88.4 A1.5,1.5 0 0 1 22.6,88.4 A1.5,1.5 0 0 1 21.2,86.0 A1.5,1.5 0 0 1 22.6,83.6 A1.5,1.5 0 0 1 25.4,83.6 A1.5,1.5 0 0 1 26.8,86.0 M43.0,80.0 A1.7,1.7 0 0 1 41.5,82.6 A1.7,1.7 0 0 1 38.5,82.6 A1.7,1.7 0 0 1 37.0,80.0 A1.7,1.7 0 0 1 38.5,77.4 A1.7,1.7 0 0 1 41.5,77.4 A1.7,1.7 0 0 1 43.0,80.0 M50.0,86.0 A1.7,1.7 0 0 1 48.5,88.6 A1.7,1.7 0 0 1 45.5,88.6 A1.7,1.7 0 0 1 44.0,86.0 A1.7,1.7 0 0 1 45.5,83.4 A1.7,1.7 0 0 1 48.5,83.4 A1.7,1.7 0 0 1 50.0,86.0 M57.0,90.0 A1.7,1.7 0 0 1 55.5,92.6 A1.7,1.7 0 0 1 52.5,92.6 A1.7,1.7 0 0 1 51.0,90.0 A1.7,1.7 0 0 1 52.5,87.4 A1.7,1.7 0 0 1 55.5,87.4 A1.7,1.7 0 0 1 57.0,90.0 M62.8,95.0 A1.5,1.5 0 0 1 61.4,97.4 A1.5,1.5 0 0 1 58.6,97.4 A1.5,1.5 0 0 1 57.2,95.0 A1.5,1.5 0 0 1 58.6,92.6 A1.5,1.5 0 0 1 61.4,92.6 A1.5,1.5 0 0 1 62.8,95.0 M143.5,80.0 A1.9,1.9 0 0 1 141.8,83.0 A1.9,1.9 0 0 1 138.2,83.0 A1.9,1.9 0 0 1 136.5,80.0 A1.9,1.9 0 0 1 138.2,77.0 A1.9,1.9 0 0 1 141.8,77.0 A1.9,1.9 0 0 1 143.5,80.0 M138.2,86.0 A1.8,1.8 0 0 1 136.6,88.8 A1.8,1.8 0 0 1 133.4,88.8 A1.8,1.8 0 0 1 131.8,86.0 A1.8,1.8 0 0 1 133.4,83.2 A1.8,1.8 0 0 1 136.6,83.2 A1.8,1.8 0 0 1 138.2,86.0 M131.0,88.0 A1.7,1.7 0 0 1 129.5,90.6 A1.7,1.7 0 0 1 126.5,90.6 A1.7,1.7 0 0 1 125.0,88.0 A1.7,1.7 0 0 1 126.5,85.4 A1.7,1.7 0 0 1 129.5,85.4 A1.7,1.7 0 0 1 131.0,88.0 M122.8,86.0 A1.5,1.5 0 0 1 121.4,88.4 A1.5,1.5 0 0 1 118.6,88.4 A1.5,1.5 0 0 1 117.2,86.0 A1.5,1.5 0 0 1 118.6,83.6 A1.5,1.5 0 0 1 121.4,83.6 A1.5,1.5 0 0 1 122.8,86.0 M107.0,80.0 A1.7,1.7 0 0 1 105.5,82.6 A1.7,1.7 0 0 1 102.5,82.6 A1.7,1.7 0 0 1 101.0,80.0 A1.7,1.7 0 0 1 102.5,77.4 A1.7,1.7 0 0 1 105.5,77.4 A1.7,1.7 0 0 1 107.0,80.0 M100.0,86.0 A1.7,1.7 0 0 1 98.5,88.6 A1.7,1.7 0 0 1 95.5,88.6 A1.7,1.7 0 0 1 94.0,86.0 A1.7,1.7 0 0 1 95.5,83.4 A1.7,1.7 0 0 1 98.5,83.4 A1.7,1.7 0 0 1 100.0,86.0 M93.0,90.0 A1.7,1.7 0 0 1 91.5,92.6 A1.7,1.7 0 0 1 88.5,92.6 A1.7,1.7 0 0 1 87.0,90.0 A1.7,1.7 0 0 1 88.5,87.4 A1.7,1.7 0 0 1 91.5,87.4 A1.7,1.7 0 0 1 93.0,90.0 M86.8,95.0 A1.5,1.5 0 0 1 85.4,97.4 A1.5,1.5 0 0 1 82.6,97.4 A1.5,1.5 0 0 1 81.2,95.0 A1.5,1.5 0 0 1 82.6,92.6 A1.5,1.5 0 0 1 85.4,92.6 A1.5,1.5 0 0 1 86.8,95.0 M38.5,74.0 A1.4,1.4 0 0 1 37.2,76.2 A1.4,1.4 0 0 1 34.8,76.2 A1.4,1.4 0 0 1 33.5,74.0 A1.4,1.4 0 0 1 34.8,71.8 A1.4,1.4 0 0 1 37.2,71.8 A1.4,1.4 0 0 1 38.5,74.0 M110.5,74.0 A1.4,1.4 0 0 1 109.2,76.2 A1.4,1.4 0 0 1 106.8,76.2 A1.4,1.4 0 0 1 105.5,74.0 A1.4,1.4 0 0 1 106.8,71.8 A1.4,1.4 0 0 1 109.2,71.8 A1.4,1.4 0 0 1 110.5,74.0 M52.2,78.0 A1.2,1.2 0 0 1 51.1,79.9 A1.2,1.2 0 0 1 48.9,79.9 A1.2,1.2 0 0 1 47.8,78.0 A1.2,1.2 0 0 1 48.9,76.1 A1.2,1.2 0 0 1 51.1,76.1 A1.2,1.2 0 0 1 52.2,78.0 M96.2,78.0 A1.2,1.2 0 0 1 95.1,79.9 A1.2,1.2 0 0 1 92.9,79.9 A1.2,1.2 0 0 1 91.8,78.0 A1.2,1.2 0 0 1 92.9,76.1 A1.2,1.2 0 0 1 95.1,76.1 A1.2,1.2 0 0 1 96.2,78.0" stroke-width="0.6"/><path d="M22.8,27.0 A1.8,1.8 0 1 1 21.0,25.2 M21.3,32.0 A1.8,1.8 0 1 1 19.5,30.2 M22.8,37.0 A1.8,1.8 0 1 1 21.0,35.2 M25.6,41.0 A1.6,1.6 0 1 1 24.0,39.4 M29.6,40.0 A1.6,1.6 0 1 1 28.0,38.4 M27.5,34.0 A1.5,1.5 0 1 1 26.0,32.5 M31.4,36.0 A1.4,1.4 0 1 1 30.0,34.6 M25.4,30.0 A1.4,1.4 0 1 1 24.0,28.6 M111.5,34.0 A1.5,1.5 0 1 1 110.0,32.5 M115.0,37.0 A1.5,1.5 0 1 1 113.5,35.5 M118.5,34.0 A1.5,1.5 0 1 1 117.0,32.5 M111.5,40.0 A1.5,1.5 0 1 1 110.0,38.5 M118.5,40.0 A1.5,1.5 0 1 1 117.0,38.5 M114.9,43.0 A1.4,1.4 0 1 1 113.5,41.6 M107.9,37.0 A1.4,1.4 0 1 1 106.5,35.6 M121.3,37.0 A1.3,1.3 0 1 1 120.0,35.7 M42.5,21.5 m-2,0 a2,2 0 1 0 4,0 a2,2 0 1 0 -4,0 M100.5,21.5 m-2,0 a2,2 0 1 0 4,0 a2,2 0 1 0 -4,0 M26,52 C29,55 33,56 37,55 M22,63 C26,66 30,68 33,70 M14,76 C17,78 19,80 18,84 M116,52 C113,55 109,56 105,55 M121,63 C117,66 113,68 110,70 M129,76 C126,78 124,80 125,84 M5,82 C8,80 11,83 9,86 M138,82 C135,80 132,83 134,86 M62,90 C65,88 68,91 66,94 M81,90 C78,88 75,91 77,94" stroke-width="0.7"/></g>
<g class="r" font-size="18.17" fill="#111" stroke="#111" stroke-width="0.35"><g transform="translate(0,220)"><text x="1680.93" textLength="65.99" lengthAdjust="spacingAndGlyphs">Finanšu</text><text x="1751.97" textLength="77.25" lengthAdjust="spacingAndGlyphs">ministrija</text></g></g>
</svg>
</body></html>
